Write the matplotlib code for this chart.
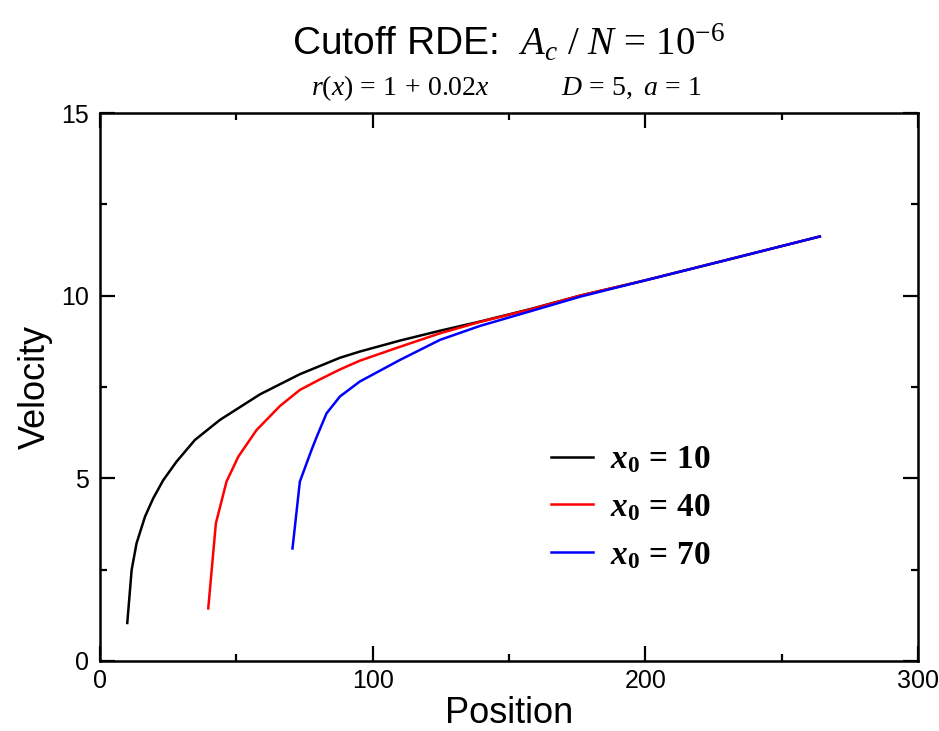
import matplotlib
matplotlib.use('Agg')
import matplotlib.pyplot as plt
from matplotlib.ticker import MultipleLocator

plt.rcParams['font.family'] = ['Liberation Sans', 'DejaVu Sans']
plt.rcParams['mathtext.fontset'] = 'custom'
plt.rcParams['mathtext.rm'] = 'Liberation Serif'
plt.rcParams['mathtext.it'] = 'Liberation Serif:italic'
plt.rcParams['mathtext.bf'] = 'Liberation Serif:bold'
plt.rcParams['mathtext.bfit'] = 'Liberation Serif:bold:italic'

# data
x10 = [10, 11.6, 13.4, 16.5, 19.5, 23.2, 28.1, 34.8, 44, 58.7, 73.3, 88, 95.3, 110, 124.7,
       139.3, 157.7, 176, 200, 230, 264]
v10 = [1.04, 2.49, 3.22, 3.95, 4.45, 4.95, 5.46, 6.05, 6.6, 7.3, 7.85, 8.3, 8.47, 8.77, 9.04,
       9.29, 9.63, 10.0, 10.42, 10.98, 11.62]

x40 = [39.7, 42.5, 46.4, 50.7, 57.4, 66, 73.3, 80.7, 88, 95.3, 110, 124.7, 139.3, 157.7,
       176, 200, 230, 264]
v40 = [1.44, 3.77, 4.91, 5.59, 6.32, 6.98, 7.42, 7.71, 7.98, 8.22, 8.60, 8.97, 9.28, 9.62,
       10.0, 10.42, 10.98, 11.62]

x70 = [70.6, 73.3, 77.6, 79.5, 83.1, 88, 95.3, 110, 124.7, 139.3, 157.7, 176, 200, 230, 264]
v70 = [3.08, 4.91, 5.78, 6.14, 6.78, 7.24, 7.65, 8.24, 8.79, 9.17, 9.57, 9.97, 10.42, 10.98, 11.62]

labels = [r'$\mathbfit{x}_{\mathbf{0}}\,\mathbf{=}\,\mathbf{10}$',
          r'$\mathbfit{x}_{\mathbf{0}}\,\mathbf{=}\,\mathbf{40}$',
          r'$\mathbfit{x}_{\mathbf{0}}\,\mathbf{=}\,\mathbf{70}$']

fig = plt.figure(figsize=(9.39, 7.31), dpi=100)
ax = fig.add_axes([0.1065, 0.0958, 0.8711, 0.7496])

ax.plot(x10, v10, color='black', lw=1.8, label=labels[0])
ax.plot(x40, v40, color='red', lw=1.8, label=labels[1])
ax.plot(x70, v70, color='blue', lw=1.8, label=labels[2])

ax.set_xlim(0, 300)
ax.set_ylim(0, 15)
ax.xaxis.set_major_locator(MultipleLocator(100))
ax.xaxis.set_minor_locator(MultipleLocator(50))
ax.yaxis.set_major_locator(MultipleLocator(5))
ax.yaxis.set_minor_locator(MultipleLocator(2.5))
ax.tick_params(which='both', direction='in', top=True, right=True, width=1.6, labelsize=18)
ax.tick_params(axis='x', which='both', pad=6)
ax.tick_params(axis='y', which='both', pad=8)
ax.tick_params(which='major', length=11)
ax.tick_params(which='minor', length=5)
for s in ax.spines.values():
    s.set_linewidth(1.8)

ax.set_xlabel('Position', fontsize=26, labelpad=2)
ax.set_ylabel('Velocity', fontsize=26, labelpad=6)

ax.legend(loc='center left', bbox_to_anchor=(0.515, 0.28), frameon=False, fontsize=24,
          handlelength=1.25, handletextpad=0.5, labelspacing=0.5)

fig.text(0.542, 0.925, r'Cutoff RDE:  $A_c\ /\ N\,=\,10^{-6}$', ha='center', fontsize=28)
fig.text(0.539, 0.87, r'$r(x)\,=\,1\,+\,0.02x\qquad\quad\ \ D\,=\,5,\ a\,=\,1$',
         ha='center', fontsize=20)

fig.savefig('out.png', dpi=100)
